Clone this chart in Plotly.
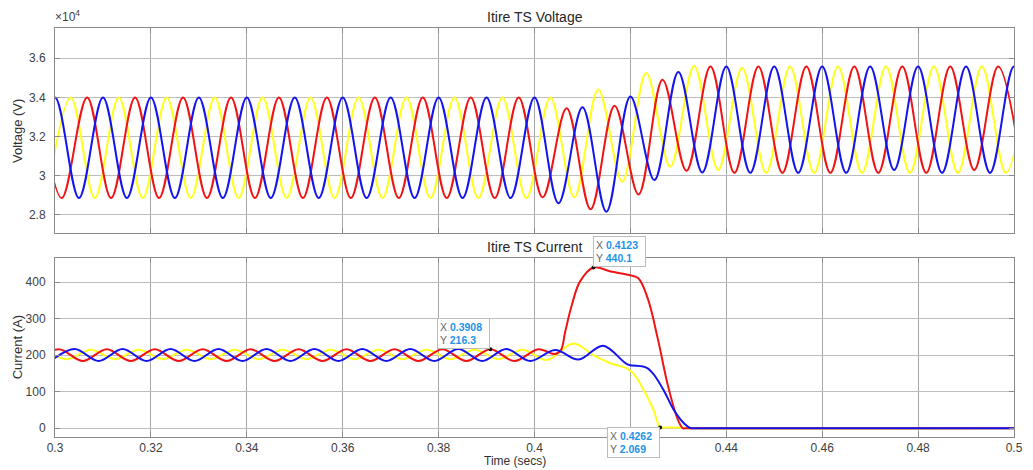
import plotly.graph_objects as go

# ---------------- data ----------------
X_TICKS = [0.30, 0.32, 0.34, 0.36, 0.38, 0.40, 0.42, 0.44, 0.46, 0.48, 0.50]
# the 0.42 label is hidden behind a data tip in the reference
X_TICK_TEXT = ["0.3", "0.32", "0.34", "0.36", "0.38", "0.4", "", "0.44", "0.46", "0.48", "0.5"]
V_TICKS = [28000, 30000, 32000, 34000, 36000]
V_TICK_TEXT = ["2.8", "3", "3.2", "3.4", "3.6"]
I_TICKS = [0, 100, 200, 300, 400]
I_TICK_TEXT = ["0", "100", "200", "300", "400"]

# Voltage waveform extrema (time s, value V)
VB_T = [0.295, 0.300, 0.305, 0.310, 0.315, 0.320, 0.325, 0.330, 0.335, 0.340,
        0.345, 0.350, 0.355, 0.360, 0.365, 0.370, 0.375, 0.380, 0.385, 0.390,
        0.395, 0.400, 0.405, 0.410, 0.415, 0.420, 0.425, 0.430, 0.435, 0.440,
        0.445, 0.450, 0.455, 0.460, 0.465, 0.470, 0.475, 0.480, 0.485, 0.490,
        0.495, 0.500, 0.505]
VB_V = [28860, 34000, 28860, 34000, 28860, 34000, 28860, 34000, 28860, 34000,
        28860, 34000, 28860, 34000, 28860, 34000, 28860, 34000, 28860, 34000,
        28860, 34000, 28600, 33490, 28170, 34040, 29780, 35300, 30170, 35570,
        30150, 35570, 30150, 35570, 30150, 35570, 30300, 35570, 30150, 35570,
        30150, 35570, 30150]

VR_T = [0.2967, 0.3014, 0.3067, 0.3117, 0.3167, 0.3217, 0.3267, 0.3317, 0.3367, 0.3417,
        0.3467, 0.3517, 0.3567, 0.3617, 0.3667, 0.3717, 0.3767, 0.3817, 0.3867, 0.3917,
        0.3967, 0.4017, 0.4067, 0.4117, 0.4167, 0.4217, 0.4267, 0.4317, 0.4367, 0.4417,
        0.4467, 0.4517, 0.4567, 0.4617, 0.4667, 0.4717, 0.4767, 0.4817, 0.4867, 0.4917,
        0.4967, 0.5017]
VR_V = [34000, 28860, 34000, 28860, 34000, 28860, 34000, 28860, 34000, 28860,
        34000, 28860, 34000, 28860, 34000, 28860, 34000, 28860, 34000, 28860,
        34000, 28900, 33440, 28290, 33570, 29050, 34900, 30250, 35570, 30150,
        35570, 30150, 35570, 30150, 35570, 30150, 35570, 30150, 35570, 30300,
        35570, 30150]

VY_T = [0.2983, 0.3033, 0.3083, 0.3133, 0.3183, 0.3233, 0.3283, 0.3333, 0.3383, 0.3433,
        0.3483, 0.3533, 0.3583, 0.3633, 0.3683, 0.3733, 0.3783, 0.3833, 0.3883, 0.3933,
        0.3983, 0.4033, 0.4083, 0.4133, 0.4183, 0.4233, 0.4283, 0.4333, 0.4383, 0.4433,
        0.4483, 0.4533, 0.4583, 0.4633, 0.4683, 0.4733, 0.4783, 0.4833, 0.4883, 0.4933,
        0.4983, 0.5033]
VY_V = [28860, 34000, 28860, 34000, 28860, 34000, 28860, 34000, 28860, 34000,
        28860, 34000, 28860, 34000, 28860, 34000, 28860, 34000, 28860, 34000,
        28860, 34000, 28900, 34400, 29700, 35250, 30460, 35600, 30300, 35500,
        30150, 35570, 30150, 35570, 30150, 35570, 30150, 35570, 30150, 35570,
        30150, 35570]

# Current waveform points (time s, value A)
IR_T = [0.2958, 0.3008, 0.3058, 0.3108, 0.3158, 0.3208, 0.3258, 0.3308, 0.3358, 0.3408,
        0.3458, 0.3508, 0.3558, 0.3608, 0.3658, 0.3708, 0.3758, 0.3808, 0.3858, 0.3908,
        0.3958, 0.4008, 0.4042, 0.4055, 0.4064, 0.4078, 0.4095, 0.4123, 0.4159, 0.4195,
        0.4216, 0.4236, 0.4257, 0.4278, 0.4298, 0.4309, 0.4315, 0.5000]
IR_V = [184, 216.3, 184, 216.3, 184, 216.3, 184, 216.3, 184, 216.3,
        184, 216.3, 184, 216.3, 184, 216.3, 184, 216.3, 184, 216.3,
        184, 216.3, 203, 214, 264, 338, 402, 440.1, 429, 420,
        411, 356, 246, 118, 27, 0, 0, 0]

IB_T = [0.2991, 0.3041, 0.3091, 0.3141, 0.3191, 0.3241, 0.3291, 0.3341, 0.3391, 0.3441,
        0.3491, 0.3541, 0.3591, 0.3641, 0.3691, 0.3741, 0.3791, 0.3841, 0.3891, 0.3941,
        0.3991, 0.4043, 0.4092, 0.4143, 0.4195, 0.4222, 0.4236, 0.4250, 0.4271, 0.4291,
        0.4312, 0.4326, 0.4332, 0.5000]
IB_V = [184, 217, 184, 217, 184, 217, 184, 217, 184, 217,
        184, 217, 184, 217, 184, 217, 184, 217, 184, 217,
        184, 214, 188, 226, 174, 170, 164, 145, 100, 49,
        13, 0, 0, 0]

IY_T = [0.2975, 0.3025, 0.3075, 0.3125, 0.3175, 0.3225, 0.3275, 0.3325, 0.3375, 0.3425,
        0.3475, 0.3525, 0.3575, 0.3625, 0.3675, 0.3725, 0.3775, 0.3825, 0.3875, 0.3925,
        0.3975, 0.4026, 0.4081, 0.4123, 0.4158, 0.4192, 0.4206, 0.4226, 0.4247, 0.4262,
        0.4268, 0.4295, 0.4320, 0.5000]
IY_V = [215, 189, 215, 189, 215, 189, 215, 189, 215, 189,
        215, 189, 215, 189, 215, 189, 215, 189, 215, 189,
        215, 187, 232, 200, 178, 164, 150, 109, 54, 2.069,
        2.0, 2.0, 0, 0]

TIP_X = [0.3908, 0.4123, 0.4262]
TIP_Y = [216.3, 440.1, 2.069]
TIP_X_TEXT = ["0.3908", "0.4123", "0.4262"]
TIP_Y_TEXT = ["216.3", "440.1", "2.069"]

# ---------------- styling ----------------
FONT = "Liberation Sans, Arial, Helvetica, sans-serif"
RED, BLUE, YELLOW = "#f01414", "#1414ee", "#ffff1e"
LW = 2

fig = go.Figure()

def add_wave(t, v, color, xa, ya):
    fig.add_trace(go.Scatter(x=t, y=v, mode="lines", xaxis=xa, yaxis=ya,
                             line=dict(color=color, width=LW, shape="spline", smoothing=1),
                             showlegend=False, hoverinfo="skip"))

add_wave(VY_T, VY_V, YELLOW, "x", "y")
add_wave(VR_T, VR_V, RED, "x", "y")
add_wave(VB_T, VB_V, BLUE, "x", "y")
add_wave(IY_T, IY_V, YELLOW, "x2", "y2")
add_wave(IR_T, IR_V, RED, "x2", "y2")
add_wave(IB_T, IB_V, BLUE, "x2", "y2")

fig.add_trace(go.Scatter(x=TIP_X, y=TIP_Y, mode="markers", xaxis="x2", yaxis="y2",
                         marker=dict(color="#111111", size=4), showlegend=False,
                         hoverinfo="skip"))

common_x = dict(range=[0.3, 0.5], tickvals=X_TICKS, ticktext=X_TICK_TEXT,
                showgrid=True, gridcolor="#a6a6a6", gridwidth=1,
                showline=True, linecolor="#8a8a8a", linewidth=1, mirror="ticks",
                ticks="inside", ticklen=5, tickcolor="#8a8a8a",
                zeroline=False, tickfont=dict(family=FONT, size=12, color="#404040"))
common_y = dict(showgrid=True, gridcolor="#bdbdbd", gridwidth=1,
                showline=True, linecolor="#8a8a8a", linewidth=1, mirror="ticks",
                ticks="inside", ticklen=5, tickcolor="#8a8a8a",
                zeroline=False, tickfont=dict(family=FONT, size=12, color="#404040"),
                ticklabelstandoff=6)

fig.update_layout(
    width=1033, height=470,
    margin=dict(l=55, r=10, t=28, b=33),
    paper_bgcolor="white", plot_bgcolor="white",
    hovermode=False,
    xaxis=dict(common_x, domain=[0, 1], anchor="y", showticklabels=False),
    yaxis=dict(common_y, domain=[0.4988, 1], anchor="x", range=[27080, 37540],
               tickvals=V_TICKS, ticktext=V_TICK_TEXT),
    xaxis2=dict(common_x, domain=[0, 1], anchor="y2", ticklabelstandoff=0),
    yaxis2=dict(common_y, domain=[0, 0.4377], anchor="x2", range=[-24, 466],
                tickvals=I_TICKS, ticktext=I_TICK_TEXT),
)

ann = []
ann.append(dict(text="Itire TS Voltage", xref="paper", yref="paper", x=0.5, y=1.0269,
                xanchor="center", yanchor="middle", showarrow=False,
                font=dict(family=FONT, size=14, color="#262626")))
ann.append(dict(text="Itire TS Current", xref="paper", yref="paper", x=0.5, y=0.4638,
                xanchor="center", yanchor="middle", showarrow=False,
                font=dict(family=FONT, size=14, color="#262626")))
ann.append(dict(text="×10<sup>4</sup>", xref="paper", yref="paper", x=-0.002, y=1.005,
                xanchor="left", yanchor="bottom", showarrow=False,
                font=dict(family=FONT, size=12, color="#404040")))
ann.append(dict(text="Voltage (V)", xref="paper", yref="paper", x=-0.0393, y=0.749,
                xanchor="center", yanchor="middle", textangle=-90, showarrow=False,
                font=dict(family=FONT, size=13, color="#303030")))
ann.append(dict(text="Current (A)", xref="paper", yref="paper", x=-0.0393, y=0.22,
                xanchor="center", yanchor="middle", textangle=-90, showarrow=False,
                font=dict(family=FONT, size=13, color="#303030")))
ann.append(dict(text="Time (secs)", xref="paper", yref="paper", x=0.480, y=-0.0807,
                xanchor="center", yanchor="bottom", showarrow=False,
                font=dict(family=FONT, size=12, color="#303030")))

anchors = [("right", "bottom"), ("left", "bottom"), ("right", "top")]
for i in range(3):
    txt = ("X <b><span style='color:#1f93ea'>%s</span></b><br>"
           "Y <b><span style='color:#1f93ea'>%s</span></b>") % (TIP_X_TEXT[i], TIP_Y_TEXT[i])
    ann.append(dict(text=txt, xref="x2", yref="y2", x=TIP_X[i], y=TIP_Y[i],
                    xanchor=anchors[i][0], yanchor=anchors[i][1], showarrow=False,
                    align="left", valign="middle", width=47, height=25,
                    bgcolor="white", bordercolor="#bcbcbc",
                    borderwidth=1, borderpad=2,
                    font=dict(family=FONT, size=10.5, color="#666666")))

fig.update_layout(annotations=ann)

fig.write_html("out.html", config={"displayModeBar": False})
